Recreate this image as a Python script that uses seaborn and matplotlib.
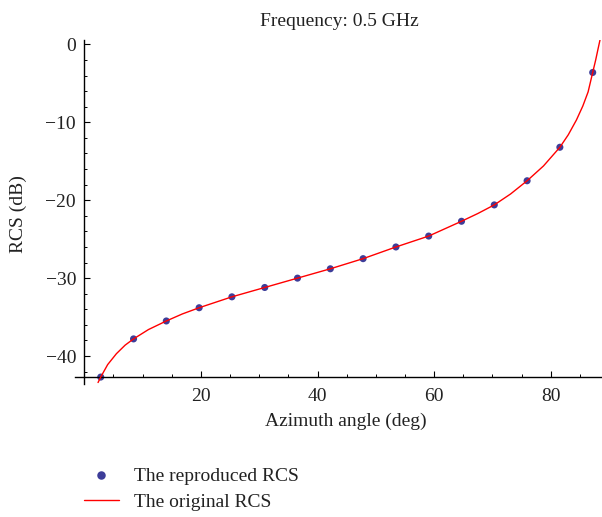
import numpy as np
import pandas as pd
import matplotlib
matplotlib.use("Agg")
import matplotlib.pyplot as plt
from matplotlib.ticker import MultipleLocator, FixedLocator
import seaborn as sns

# ---- data ----
point_angle = [2.81, 8.44, 14.06, 19.69, 25.31, 30.94, 36.56, 42.19,
               47.81, 53.44, 59.06, 64.69, 70.31, 75.94, 81.56, 87.19]
point_rcs = [-42.7, -37.8, -35.5, -33.8, -32.4, -31.2, -30.0, -28.8,
             -27.5, -26.0, -24.6, -22.7, -20.6, -17.5, -13.2, -3.6]

line_angle = [2.35, 2.81, 4.0, 5.5, 7.0, 8.44, 11.0, 14.06, 16.8, 19.69,
              25.31, 30.94, 36.56, 42.19, 47.81, 53.44, 59.06, 64.69,
              67.5, 70.31, 73.1, 75.94, 78.75, 81.56, 83.0, 84.4, 85.5,
              86.4, 87.19, 87.7, 88.1, 88.45]
line_rcs = [-43.4, -42.7, -41.1, -39.7, -38.6, -37.8, -36.6, -35.5, -34.6, -33.8,
            -32.4, -31.2, -30.0, -28.8, -27.5, -26.0, -24.6, -22.7,
            -21.7, -20.6, -19.2, -17.5, -15.6, -13.2, -11.6, -9.7, -7.9,
            -6.1, -3.6, -2.0, -0.6, 0.6]

x_major = [20, 40, 60, 80]
y_major = [0, -10, -20, -30, -40]
title = "Frequency: 0.5 GHz"
xlabel = "Azimuth angle (deg)"
ylabel = "RCS (dB)"
labels = ["The reproduced RCS", "The original RCS"]

pts = pd.DataFrame({"angle": point_angle, "rcs": point_rcs})
crv = pd.DataFrame({"angle": line_angle, "rcs": line_rcs})

sns.set_style("ticks")
plt.rcParams["font.family"] = ["Liberation Serif", "DejaVu Serif"]
plt.rcParams["font.size"] = 14

fig = plt.figure(figsize=(6.02, 5.17), dpi=100)
ax = fig.add_axes([0.1246, 0.2571, 0.8736, 0.666])

sns.scatterplot(data=pts, x="angle", y="rcs", ax=ax, color="#3D3D99",
                s=26, edgecolor="none", zorder=2, label=labels[0])
sns.lineplot(data=crv, x="angle", y="rcs", ax=ax, color="#FF0000",
             linewidth=1.0, zorder=3, label=labels[1], sort=False)

ax.set_xlim(-1.6, 88.6)
ax.set_ylim(-43.6, 0.6)

ax.spines["left"].set_position(("data", 0))
ax.spines["bottom"].set_position(("data", -42.7))
ax.spines["top"].set_visible(False)
ax.spines["right"].set_visible(False)
for s in ("left", "bottom"):
    ax.spines[s].set_linewidth(1.0)
    ax.spines[s].set_color("black")

ax.xaxis.set_major_locator(FixedLocator(x_major))
ax.yaxis.set_major_locator(FixedLocator(y_major))
ax.xaxis.set_minor_locator(MultipleLocator(5))
ax.yaxis.set_minor_locator(MultipleLocator(2))
ax.tick_params(which="major", direction="in", length=4, width=0.8,
               labelsize=14, color="black", labelcolor="#222222")
ax.tick_params(which="minor", direction="in", length=2.5, width=0.7, color="black")
ax.tick_params(axis="x", which="major", pad=8)
ax.tick_params(axis="y", which="major", pad=6)
ax.set_xticklabels([str(v) for v in x_major])
ax.set_yticklabels(["0" if v == 0 else "\u2212" + str(-v) for v in y_major])

ax.set_xlabel(xlabel, fontsize=14, color="#222222")
ax.set_ylabel(ylabel, fontsize=14, color="#222222")
ax.xaxis.set_label_coords(0.515, -0.107)
ax.yaxis.set_label_coords(-0.107, 0.494)
ax.xaxis.label.set_va("center")
ax.yaxis.label.set_va("center")

fig.text(0.563, 0.959, title, ha="center", va="center", fontsize=14, color="#222222")

ax.get_legend().remove()
h, l = ax.get_legend_handles_labels()
leg = fig.legend(h, l, loc="upper left", bbox_to_anchor=(84 / 602, 1 - 467 / 517),
                 frameon=False, fontsize=14, borderpad=0, borderaxespad=0,
                 handlelength=1.8, handletextpad=0.75, labelspacing=0.45,
                 markerscale=1.2)
for t in leg.get_texts():
    t.set_color("#222222")

fig.savefig("out.png", dpi=100)
